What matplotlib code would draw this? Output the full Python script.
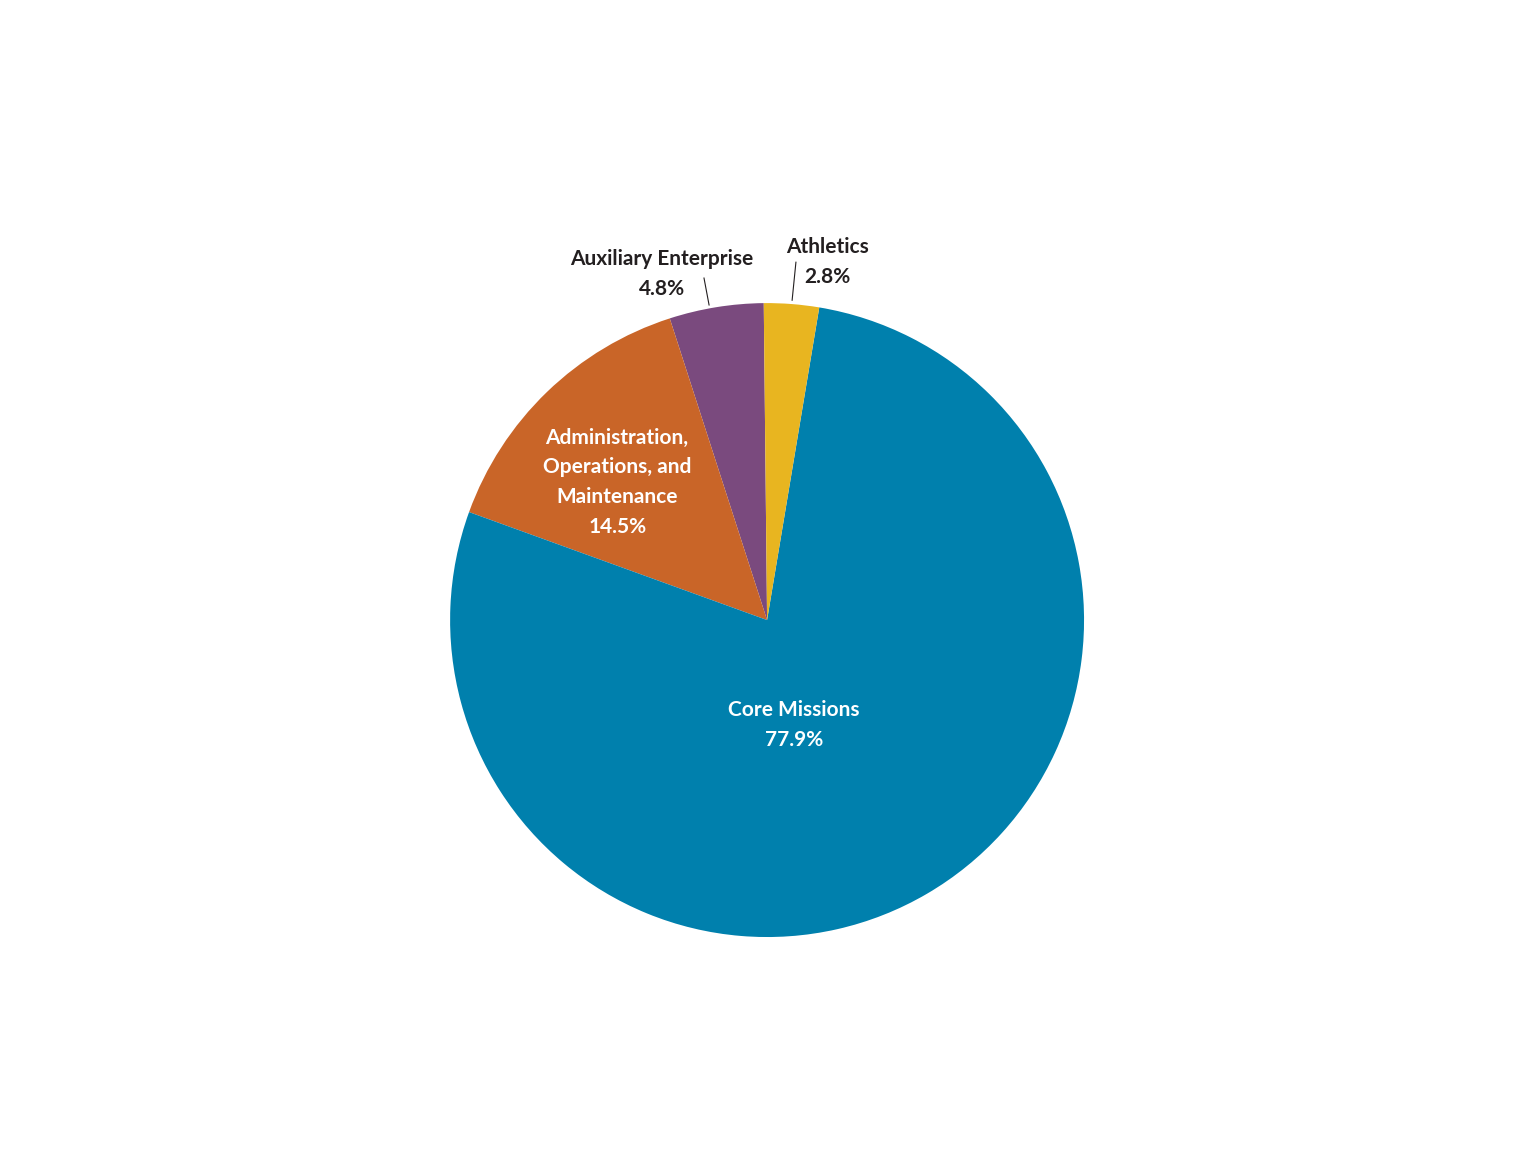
import matplotlib.pyplot as plt

# dados do grafico
categorias = ['Auxiliary Enterprise', 'Administration,\nOperations, and\nMaintenance',
              'Core Missions', 'Athletics']
valores = [4.8, 14.5, 77.9, 2.8]
cores = ['#7A4A7E', '#C96528', '#0080AD', '#E8B520']

plt.rcParams['font.family'] = ['Lato', 'DejaVu Sans']

fig = plt.figure(figsize=(15.36, 11.52), dpi=100)
ax = fig.add_axes([0.293, 0.1866, 0.4128, 0.5503])

ax.pie(valores, colors=cores, startangle=90.6, counterclock=True, radius=1,
       wedgeprops={'linewidth': 0})
ax.set_xlim(-1, 1)
ax.set_ylim(-1, 1)
ax.set_aspect('equal')
ax.axis('off')

fs = 15
estilo = dict(ha='center', va='center', fontsize=fs, fontweight='bold', linespacing=1.6)

# rotulos internos (brancos)
ax.text(0.085, -0.331, f'{categorias[2]}\n{valores[2]}%', color='white', **estilo)
ax.text(-0.473, 0.435, f'{categorias[1]}\n{valores[1]}%', color='white', **estilo)

# rotulos externos com linha guia
ax.text(-0.331, 1.092, f'{categorias[0]}\n{valores[0]}%', color='#231F20', clip_on=False, **estilo)
ax.text(0.189, 1.129, f'{categorias[3]}\n{valores[3]}%', color='#231F20', clip_on=False, **estilo)
ax.plot([-0.199, -0.183], [1.079, 0.994], color='#231F20', lw=0.8, clip_on=False)
ax.plot([0.091, 0.079], [1.129, 1.009], color='#231F20', lw=0.8, clip_on=False)

fig.savefig('out.png', dpi=100, facecolor='white')
